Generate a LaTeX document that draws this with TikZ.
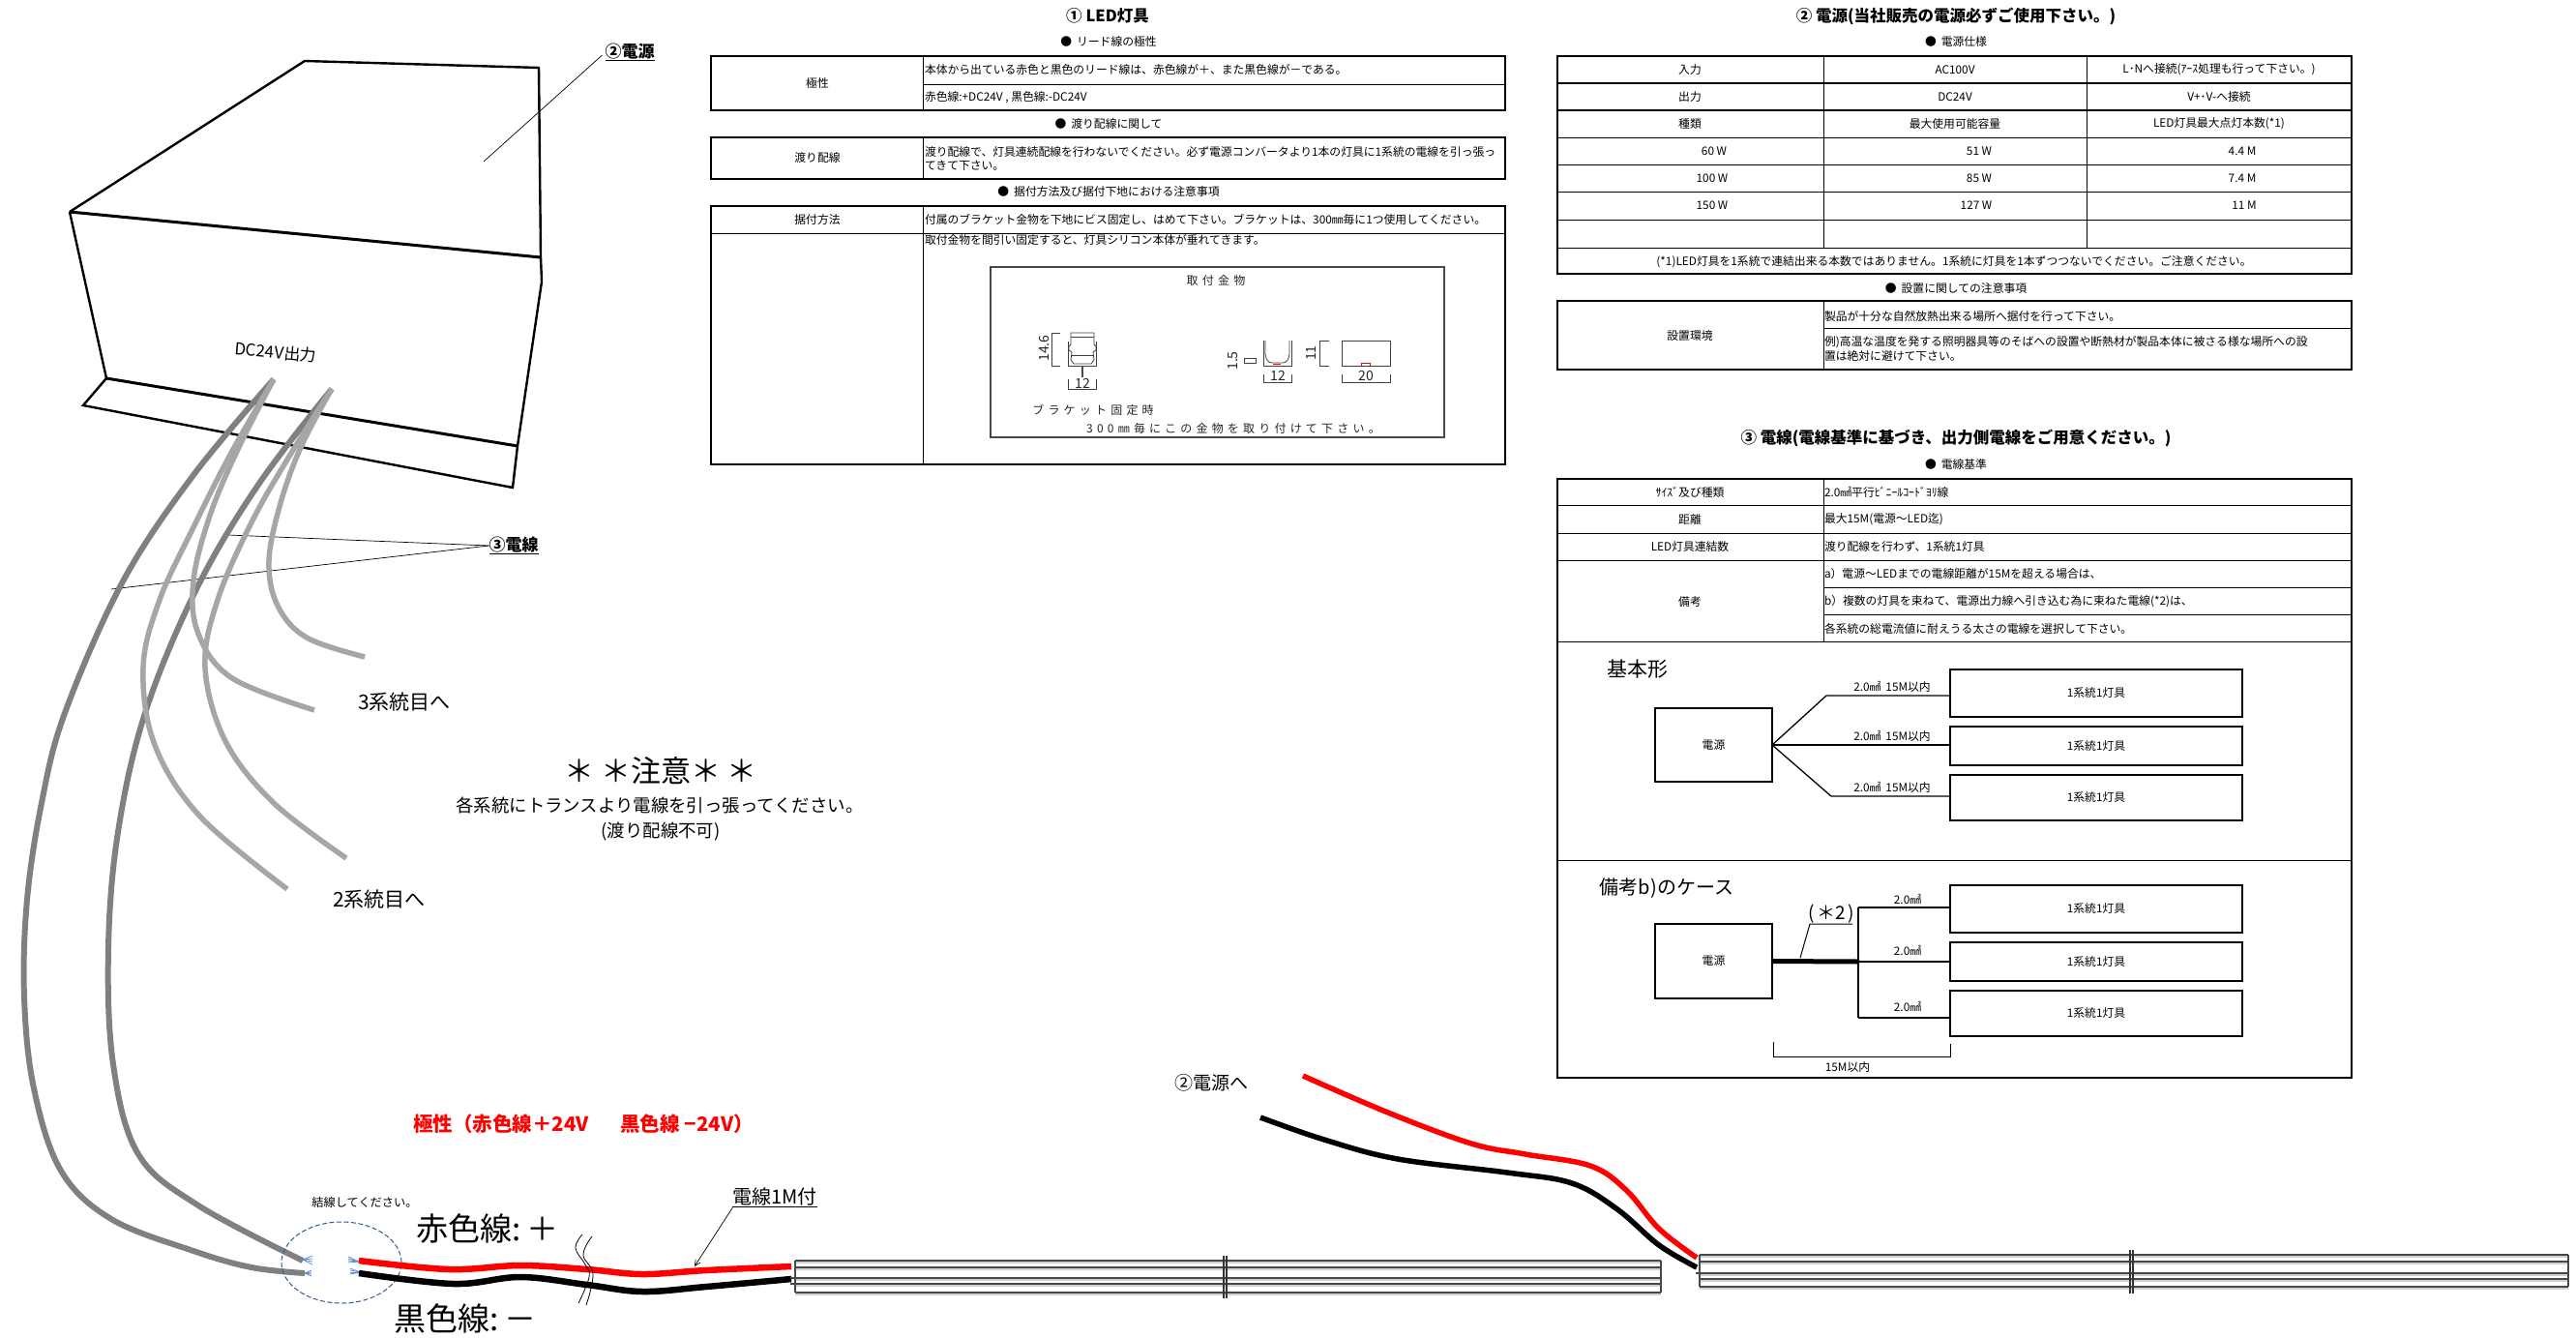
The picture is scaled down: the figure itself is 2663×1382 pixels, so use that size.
\documentclass[tikz,border=0pt]{standalone}
\usepackage{fontspec}
\setmainfont{Noto Sans CJK JP}
\newfontfamily\jpspaced[LetterSpace=35]{Noto Sans CJK JP}
\usetikzlibrary{arrows.meta}
\newcommand{\fsz}[1]{\fontsize{#1}{#1}\selectfont}
\newcommand{\blt}{●\hspace{5pt}}
\tikzset{
  x=1pt,y=-1pt,
  every node/.style={inner sep=0pt,outer sep=0pt},
  cell/.style={font=\fsz{11.8},anchor=center},
  cellL/.style={font=\fsz{11.8},anchor=west},
  subhead/.style={font=\fsz{11.8},anchor=center},
  sectitle/.style={font=\bfseries\fsz{16.5},anchor=center},
  thickrule/.style={line width=2.4pt,black},
  thinrule/.style={line width=1pt,black},
  casing/.style={line width=2.4pt,black,line join=miter},
  wiredark/.style={line width=6pt,color=wiregray},
  wirelight/.style={line width=5.5pt,color=wirelite},
  wirered/.style={line width=6.5pt,color=red},
  wireblack/.style={line width=6.5pt,black},
  strand/.style={line width=0.8pt,color=strandblue},
  leader/.style={line width=0.7pt,black},
  stripline/.style={line width=1.6pt,color=stripgray},
  striptick/.style={line width=1.1pt,color=black!80},
  stripshade/.style={line width=1.2pt,color=black!18},
  lamp/.style={draw=black,line width=1.5pt,anchor=north west,font=\fsz{11.8},align=center},
  branch/.style={line width=1.3pt,black},
  fig/.style={line width=0.8pt,color=black!75},
  figtxt/.style={font=\jpspaced\fsz{12},color=black!85},
  figdim/.style={font=\fsz{14},color=black!85},
}
\definecolor{wiregray}{HTML}{808080}
\definecolor{wirelite}{HTML}{A6A6A6}
\definecolor{strandblue}{HTML}{5B8FD0}
\definecolor{stripgray}{HTML}{484848}
\definecolor{ringblue}{HTML}{2F5C8F}
\begin{document}
\begin{tikzpicture}
\useasboundingbox (0,0) rectangle (2663,1382);
\fill[white] (0,0) rectangle (2663,1382);

% ---------- power supply casing
\draw[casing] (72,219) -- (315,63) -- (557,70) -- (559,266) -- (560,291) -- (535,461);
\draw[casing,line width=3pt] (72,219) -- (559,266);
\draw[casing] (72,219) -- (110,391);
\draw[casing,line width=3pt] (110,391) -- (535,461);
\draw[casing] (110,391) -- (86,419) -- (530,504) -- (535,461);
\node[font=\fsz{17},rotate=-5] (dcout) at (285,364) {DC24V出力};
\node[font=\bfseries\fsz{17}] (psulabel) at (651,54) {\underline{②電源}};
\coordinate (psutop) at (500,167);
\draw[leader] (psulabel.west) ++(-3,3) -- (psutop);
\node[font=\bfseries\fsz{17}] (cablelabel) at (531,564) {\underline{③電線}};
\coordinate (cableA) at (236,553);
\coordinate (cableB) at (115,609);
\draw[leader] (cablelabel.west) -- (cableA);
\draw[leader] (cablelabel.west) -- (cableB);

% ---------- grey cables
\draw[wiredark] plot[smooth,tension=0.6] coordinates {(283,392) (200,491) (127,601) (67,737) (43,830) (28,930) (25,1030) (35,1125) (63,1210) (115,1260) (200,1293) (260,1310) (315,1316)};
\draw[wiredark] plot[smooth,tension=0.6] coordinates {(343,402) (267,501) (203,609) (150,737) (122,860) (112,980) (117,1100) (143,1193) (205,1246) (313,1303)};
\draw[wirelight] plot[smooth,tension=0.6] coordinates {(283,392) (238,470) (200,545) (165,620) (148,690) (160,770) (207,844) (297,919)};
\draw[wirelight] plot[smooth,tension=0.6] coordinates {(283,392) (248,460) (218,530) (200,600) (205,655) (240,701) (325,734)};
\draw[wirelight] plot[smooth,tension=0.6] coordinates {(343,402) (300,470) (260,540) (225,620) (212,690) (233,766) (283,830) (358,887)};
\draw[wirelight] plot[smooth,tension=0.6] coordinates {(343,402) (312,460) (290,520) (278,580) (287,626) (317,659) (377,679)};
\node[font=\fsz{21}] (sys3) at (418,726) {3系統目へ};
\node[font=\fsz{21}] (sys2) at (392,930) {2系統目へ};

% ---------- notes
\node[font=\fsz{31}] (warnhead) at (683,797) {＊ ＊注意＊ ＊};
\node[font=\fsz{18.4}] (warn1) at (682,832) {各系統にトランスより電線を引っ張ってください。};
\node[font=\fsz{18.4}] (warn2) at (683,860) {(渡り配線不可)};
\node[font=\bfseries\fsz{20.5},color=red] (polarity) at (603,1162) {極性（赤色線＋24V\hspace{12pt}　黒色線 −24V）};
\node[font=\fsz{12.2}] (joinnote) at (377,1243) {結線してください。};
\node[font=\fsz{33}] (redlabel) at (504,1270) {赤色線:\hspace{5pt}＋};
\node[font=\fsz{33}] (blacklabel) at (481,1363) {黒色線:\hspace{5pt}－};
\node[font=\fsz{20}] (leadlabel) at (801,1238) {\underline{電線1M付}};
\coordinate (leadpt) at (718,1309);
\draw[leader,-{Straight Barb[length=6pt,width=6pt]}] (leadlabel.south west) -- (leadpt);

% ---------- joint
\draw[ringblue,line width=1pt,dashed,dash pattern=on 5pt off 2.5pt] (353,1305) ellipse [x radius=62pt,y radius=42pt];
\foreach \a in {1298,1301,1304,1307}
  \draw[strand] (313,1302) -- (323,\a);
\foreach \a in {1313,1315,1317,1319}
  \draw[strand] (315,1316) -- (322,\a);
\foreach \a in {1299,1301,1303,1305}
  \draw[strand] (371,1304) -- (360,\a);
\foreach \a in {1311,1313,1315,1317}
  \draw[strand] (372,1315) -- (362,\a);

% ---------- lead wires, strip 1
\draw[wirered] plot[smooth,tension=0.6] coordinates {(371,1303) (464,1312) (538,1308) (607,1312) (664,1317) (730,1313) (818,1309)};
\draw[wireblack] plot[smooth,tension=0.6] coordinates {(371,1316) (469,1327) (538,1320) (607,1328) (664,1335) (730,1330) (818,1322)};
\draw[line width=0.8pt] plot[smooth,tension=0.7] coordinates {(602,1276) (595,1290) (605,1307) (609,1320) (598,1347)};
\draw[line width=0.8pt] plot[smooth,tension=0.7] coordinates {(612,1278) (603,1297) (613,1317) (606,1349)};

% ---------- lead wires, strip 2
\draw[wirered,line width=5.5pt] plot[smooth,tension=0.6] coordinates {(1347,1112) (1435,1150) (1521,1182) (1577,1193) (1644,1205) (1681,1230) (1715,1270) (1754,1300)};
\draw[wireblack,line width=5.5pt] plot[smooth,tension=0.6] coordinates {(1303,1155) (1369,1178) (1445,1198) (1558,1212) (1625,1223) (1672,1250) (1715,1287) (1754,1310)};
\node[font=\fsz{19}] (topsu) at (1252,1119) {②電源へ};

% ---------- LED strips
\foreach \y in {1303,1310,1321,1327,1336} \draw[stripshade] (822,\y+2) -- (1717,\y+2);
\foreach \y in {1303,1310,1336} \draw[stripline] (822,\y) -- (1717,\y);
\foreach \y in {1321,1327} \draw[stripline] (817,\y) -- (1717,\y);
\draw[stripline] (822,1303) -- (822,1336);
\draw[stripline] (1717,1303) -- (1717,1336);
\draw[striptick] (1265,1298) -- (1265,1342);
\draw[striptick] (1268,1298) -- (1268,1342);
\foreach \y in {1297,1304,1316,1322,1330} \draw[stripshade] (1757,\y+2) -- (2655,\y+2);
\foreach \y in {1297,1304,1322,1330} \draw[stripline] (1757,\y) -- (2655,\y);
\draw[stripline] (1753,1316) -- (2655,1316);
\draw[stripline] (1757,1297) -- (1757,1330);
\draw[stripline] (2655,1297) -- (2655,1330);
\draw[striptick] (2202,1292) -- (2202,1337);
\draw[striptick] (2205,1292) -- (2205,1337);

% ---------- Section 1
\node[sectitle] (s1title) at (1145,16) {① LED灯具};
\node[subhead] (s1a) at (1146,43) {\blt リード線の極性};
\draw[thickrule] (735,58) rectangle (1556,114);
\draw[thinrule] (954,58) -- (954,114);
\draw[thinrule] (954,87) -- (1556,87);
\node[cell] (c1) at (845,86) {極性};
\node[cellL] (c2) at (956,72) {本体から出ている赤色と黒色のリード線は、赤色線が＋、また黒色線が－である。};
\node[cellL] (c3) at (956,101) {赤色線:+DC24V , 黒色線:-DC24V};
\node[subhead] (s1b) at (1146,128) {\blt 渡り配線に関して};
\draw[thickrule] (735,142) rectangle (1556,185);
\draw[thinrule] (954,142) -- (954,185);
\node[cell] (c4) at (845,163) {渡り配線};
\node[cellL] (c5) at (956,157) {渡り配線で、灯具連続配線を行わないでください。必ず電源コンバータより1本の灯具に1系統の電線を引っ張っ};
\node[cellL] (c6) at (956,171) {てきて下さい。};
\node[subhead] (s1c) at (1146,198) {\blt 据付方法及び据付下地における注意事項};
\draw[thickrule] (735,213) rectangle (1556,480);
\draw[thinrule] (954,213) -- (954,480);
\draw[thinrule] (735,241) -- (1556,241);
\node[cell] (c7) at (845,227) {据付方法};
\node[cellL] (c8) at (956,227) {付属のブラケット金物を下地にビス固定し、はめて下さい。ブラケットは、300㎜毎に1つ使用してください。};
\node[cellL] (c9) at (956,248) {取付金物を間引い固定すると、灯具シリコン本体が垂れてきます。};

% bracket figure
\draw[line width=1.2pt,color=stripgray] (1024,276) rectangle (1493,452);
\node[figtxt] (f1) at (1257,290) {取付金物};
\node[figtxt] (f2) at (1130,424) {ブラケット固定時};
\node[figtxt] (f3) at (1275,443) {300㎜毎にこの金物を取り付けて下さい。};
\draw[fig] (1107,344) -- (1107,356) -- (1105,358) -- (1105,362) -- (1108,364) -- (1107,372) -- (1110,376) -- (1128,376) -- (1131,372) -- (1130,364) -- (1133,362) -- (1133,358) -- (1131,356) -- (1131,344) -- cycle;
\draw[fig] (1107,348) -- (1131,348);
\draw[fig] (1107,367) -- (1131,367);
\draw[fig] (1104,353) -- (1104,378) -- (1133,378) -- (1133,353);
\fill[black!70] (1118,378) rectangle (1120,390);
\draw[fig] (1096,344) -- (1087,344) -- (1087,378) -- (1096,378);
\node[figdim,rotate=90] (f4) at (1079,360) {14.6};
\draw[fig] (1104,392) -- (1104,402) -- (1133,402) -- (1133,392);
\node[figdim] (f5) at (1119,396) {12};
\node[figdim,rotate=90] (f6) at (1275,373) {1.5};
\draw[fig] (1286,370) rectangle (1298,375);
\draw[fig] (1306,352) -- (1306,378) -- (1335,378) -- (1335,352);
\draw[fig] (1308,352) -- (1308,366) .. controls (1309,372) and (1311,375) .. (1315,375) -- (1326,375) .. controls (1330,375) and (1332,372) .. (1333,366) -- (1333,352);
\draw[red,line width=0.8pt] (1316,376) -- (1324,376);
\draw[fig] (1306,387) -- (1306,395) -- (1335,395) -- (1335,387);
\node[figdim] (f7) at (1321,388) {12};
\draw[fig] (1374,352) -- (1364,352) -- (1364,378) -- (1374,378);
\node[figdim,rotate=90] (f8) at (1355,365) {11};
\draw[fig] (1387,352) rectangle (1437,378);
\draw[red,line width=0.7pt] (1407,378) -- (1407,375) -- (1416,375) -- (1416,378);
\draw[fig] (1387,387) -- (1387,395) -- (1437,395) -- (1437,387);
\node[figdim] (f9) at (1412,389) {20};

% ---------- Section 2
\node[sectitle] (s2title) at (2022,17) {② 電源(当社販売の電源必ずご使用下さい。)};
\node[subhead] (s2a) at (2022,43) {\blt 電源仕様};
\draw[thickrule] (1610,58) rectangle (2431,283);
\foreach \y in {86,114} \draw[thickrule] (1610,\y) -- (2431,\y);
\foreach \y in {142,170,198,227,256} \draw[thinrule] (1610,\y) -- (2431,\y);
\foreach \x in {1885,2157} \draw[thinrule] (\x,58) -- (\x,256);
\node[cell] (d1) at (1747,72) {入力};
\node[cell] (d2) at (2021,72) {AC100V};
\node[cell] (d3) at (2294,72) {L･Nへ接続(ｱｰｽ処理も行って下さい。)};
\node[cell] (d4) at (1747,100) {出力};
\node[cell] (d5) at (2021,100) {DC24V};
\node[cell] (d6) at (2294,100) {V+･V-へ接続};
\node[cell] (d7) at (1747,128) {種類};
\node[cell] (d8) at (2021,128) {最大使用可能容量};
\node[cell] (d9) at (2294,128) {LED灯具最大点灯本数(*1)};
\node[cell] (d10) at (1772,156) {60 W};
\node[cell] (d11) at (2046,156) {51 W};
\node[cell] (d12) at (2318,156) {4.4 M};
\node[cell] (d13) at (1770,184) {100 W};
\node[cell] (d14) at (2046,184) {85 W};
\node[cell] (d15) at (2318,184) {7.4 M};
\node[cell] (d16) at (1770,212) {150 W};
\node[cell] (d17) at (2043,212) {127 W};
\node[cell] (d18) at (2320,212) {11 M};
\node[cell] (d19) at (2020,271) {(*1)LED灯具を1系統で連結出来る本数ではありません。1系統に灯具を1本ずつつないでください。ご注意ください。};
\node[subhead] (s2b) at (2022,298) {\blt 設置に関しての注意事項};
\draw[thickrule] (1610,311) rectangle (2431,382);
\draw[thinrule] (1885,311) -- (1885,382);
\draw[thinrule] (1885,339) -- (2431,339);
\node[cell] (d20) at (1747,347) {設置環境};
\node[cellL] (d21) at (1886,327) {製品が十分な自然放熱出来る場所へ据付を行って下さい。};
\node[cellL] (d22) at (1886,354) {例)高温な温度を発する照明器具等のそばへの設置や断熱材が製品本体に被さる様な場所への設};
\node[cellL] (d23) at (1886,368) {置は絶対に避けて下さい。};

% ---------- Section 3
\node[sectitle] (s3title) at (2022,453) {③ 電線(電線基準に基づき、出力側電線をご用意ください。)};
\node[subhead] (s3a) at (2022,480) {\blt 電線基準};
\draw[thickrule] (1610,495) rectangle (2431,1114);
\foreach \y in {522,551,579,663,889} \draw[thinrule] (1610,\y) -- (2431,\y);
\foreach \y in {607,635} \draw[thinrule] (1885,\y) -- (2431,\y);
\draw[thinrule] (1885,495) -- (1885,663);
\node[cell] (e1) at (1747,509) {ｻｲｽﾞ及び種類};
\node[cellL] (e2) at (1886,509) {2.0㎟平行ﾋﾞﾆｰﾙｺｰﾄﾞﾖﾘ線};
\node[cell] (e3) at (1747,537) {距離};
\node[cellL] (e4) at (1886,537) {最大15M(電源～LED迄)};
\node[cell] (e5) at (1747,565) {LED灯具連結数};
\node[cellL] (e6) at (1886,565) {渡り配線を行わず、1系統1灯具};
\node[cell] (e7) at (1747,622) {備考};
\node[cellL] (e8) at (1886,593) {a）電源～LEDまでの電線距離が15Mを超える場合は、};
\node[cellL] (e9) at (1886,622) {b）複数の灯具を束ねて、電源出力線へ引き込む為に束ねた電線(*2)は、};
\node[cellL] (e10) at (1886,650) {各系統の総電流値に耐えうる太さの電線を選択して下さい。};

% basic form
\node[font=\fsz{21}] (basic) at (1693,692) {基本形};
\node[lamp,minimum width=121pt,minimum height=76pt] (psuA) at (1711,732) {電源};
\node[lamp,minimum width=302pt,minimum height=49pt] (lampA1) at (2016,692) {1系統1灯具};
\node[lamp,minimum width=302pt,minimum height=40pt] (lampA2) at (2016,751) {1系統1灯具};
\node[lamp,minimum width=302pt,minimum height=47pt] (lampA3) at (2016,801) {1系統1灯具};
\coordinate (jA1) at (1888,719);
\coordinate (jA3) at (1893,823);
\coordinate (eA1) at (2016,719);
\coordinate (eA3) at (2016,823);
\draw[branch] (psuA.east) -- (jA1) -- (eA1);
\draw[branch] (psuA.east) -- (psuA.east -| lampA2.west);
\draw[branch] (psuA.east) -- (jA3) -- (eA3);
\node[cell] (wA1) at (1956,710) {2.0㎟\hspace{5pt}15M以内};
\node[cell] (wA2) at (1956,761) {2.0㎟\hspace{5pt}15M以内};
\node[cell] (wA3) at (1956,814) {2.0㎟\hspace{5pt}15M以内};

% case b
\node[font=\fsz{20}] (caseb) at (1723,918) {備考b)のケース};
\node[lamp,minimum width=121pt,minimum height=77pt] (psuB) at (1711,955) {電源};
\node[lamp,minimum width=302pt,minimum height=49pt] (lampB1) at (2016,915) {1系統1灯具};
\node[lamp,minimum width=302pt,minimum height=40pt] (lampB2) at (2016,974) {1系統1灯具};
\node[lamp,minimum width=302pt,minimum height=47pt] (lampB3) at (2016,1024) {1系統1灯具};
\coordinate (busB) at (1922,994);
\coordinate (bT) at (1921,938);
\coordinate (bB) at (1921,1052);
\draw[line width=5pt] (psuB.east) -- (busB);
\draw[branch] (bT) -- (bB);
\draw[branch] (bT) -- (bT -| lampB1.west);
\draw[branch] (busB) -- (busB -| lampB2.west);
\draw[branch] (bB) -- (bB -| lampB3.west);
\node[font=\fsz{19}] (star2) at (1893,945) {(\hspace{3pt}＊2\hspace{2pt})};
\coordinate (sL) at (1871,955);
\coordinate (sR) at (1915,955);
\coordinate (sD) at (1861,990);
\draw[thinrule] (sR) -- (sL) -- (sD);
\node[cell] (wB1) at (1972,929) {2.0㎟};
\node[cell] (wB2) at (1972,982) {2.0㎟};
\node[cell] (wB3) at (1972,1040) {2.0㎟};
\coordinate (dimL) at (1833,1077);
\coordinate (dimLb) at (1833,1092);
\coordinate (dimRb) at (2016,1092);
\coordinate (dimR) at (2016,1079);
\draw[thinrule] (dimL) -- (dimLb) -- (dimRb) -- (dimR);
\node[cell] (dimtxt) at (1910,1103) {15M以内};
\end{tikzpicture}
\end{document}
